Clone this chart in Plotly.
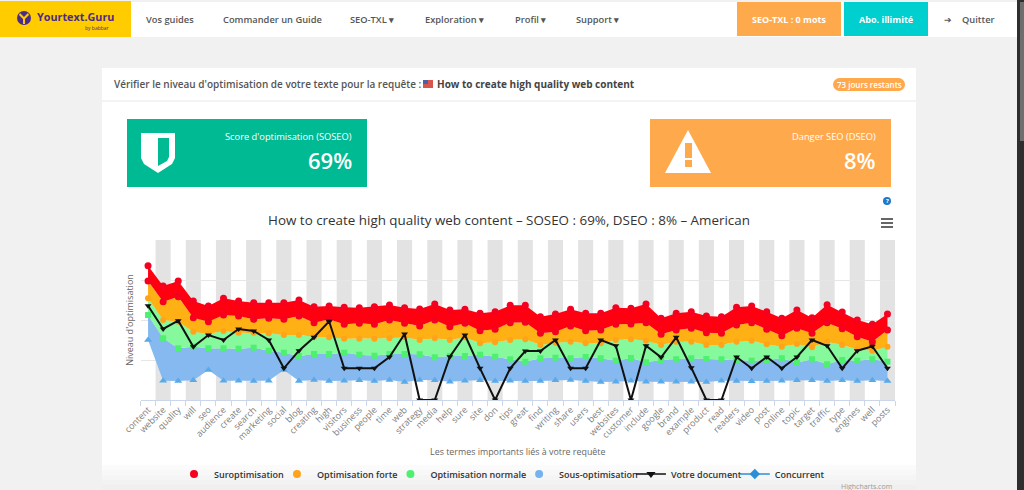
import plotly.graph_objects as go

# termes de la requete
termes = ["content", "website", "quality", "will", "seo", "audience", "create", "search", "marketing", "social",
          "blog", "creating", "high", "visitors", "business", "people", "time", "web", "strategy", "media",
          "help", "sure", "site", "don", "tips", "great", "find", "writing", "share", "users",
          "best", "websites", "customer", "include", "google", "brand", "example", "product", "read", "readers",
          "video", "post", "online", "topic", "target", "traffic", "type", "engines", "well", "posts"]

# limites des zones
suro_haut = [134.3, 114, 119, 99, 94, 101.7, 99, 97.3, 97.3, 97.3,
             100, 93.3, 94, 92.7, 92.3, 93.3, 95, 92.3, 91, 96,
             90, 90.7, 86.7, 88.3, 94.7, 94.7, 83.3, 86, 90.7, 86.7,
             86.7, 92.3, 91.7, 96, 81.7, 86.7, 88.3, 84, 83.3, 92.7,
             94, 88.3, 81.7, 90, 82.3, 95.3, 88, 80, 75.7, 86]
suro_bas = [119, 98.3, 103.3, 82.3, 78.3, 85, 84, 80.7, 81.7, 80.7,
            84, 77.3, 80.7, 75.7, 76.7, 75.7, 80, 76.7, 74, 80,
            73.3, 76.7, 69.3, 70.7, 77.3, 77.7, 66.7, 68.3, 74, 69.3,
            70, 75.7, 76, 77.3, 65.7, 70, 71.7, 67.3, 66.7, 75,
            77.3, 70.7, 64.3, 71.7, 66.7, 77.3, 71.3, 63.3, 58.3, 70]
forte_bas = [101.7, 80, 78.3, 68.3, 66, 69, 67.3, 67.3, 66.7, 65,
             65, 63.3, 62.7, 61.3, 61.3, 61.3, 61.7, 62.7, 60, 61.7,
             60, 62.7, 56.7, 57.7, 60, 60.7, 55, 57.3, 58.3, 56.7,
             56.7, 60, 60.7, 59.3, 55, 58.3, 58.3, 55, 55, 58.3,
             59.3, 55.7, 53.3, 56, 52.7, 58.3, 55, 50.7, 49.3, 53.3]
normale_bas = [85, 61.7, 51.7, 53.3, 51.7, 51.7, 51.3, 52.3, 49.3, 47.3,
               44, 46, 46, 47.3, 45.3, 44.3, 46, 46, 45.7, 42.7,
               44, 44, 45.3, 43.3, 40.7, 38.3, 41.7, 42.3, 41.7, 43,
               41.7, 39.3, 42, 37.7, 40, 40.7, 41.7, 41, 40.7, 40,
               39.3, 40, 41.7, 37.3, 40.7, 35.7, 40, 39.3, 40.7, 38.3]
sous_bas = [60, 19.3, 19, 19.7, 30, 19.3, 19.3, 19, 19.3, 30,
            19, 20, 19, 19.3, 19.7, 19, 20, 18, 20, 19.7,
            18.3, 19.3, 19.7, 19, 19.3, 19, 19, 19.7, 20, 19,
            18, 18.3, 19.3, 18.3, 18.3, 18.3, 18.3, 18, 19.3, 19,
            18.7, 19, 19.3, 19.7, 19.7, 19, 19.7, 19, 19.7, 19]
votre_doc = [94.3, 71, 79.3, 53.3, 65, 60, 71, 69, 60, 31.7,
             49.3, 62.7, 78.7, 31.7, 31.7, 31.7, 43, 66, 0, 0,
             43.3, 65, 31.7, 0, 31.7, 49, 49, 60, 31.7, 31.7,
             60, 54.3, 0, 54.3, 42.7, 62.7, 32.3, 0, 0, 43,
             31.7, 43, 31.7, 43, 60, 54.3, 31.7, 49.3, 53.7, 31.7]

FONT = "Open Sans"
W, H = 1024, 490


def px(x):
    return x / W


def py(y):
    return 1 - y / H


shapes = []
annots = []


def rect(x0, y0, x1, y1, color):
    shapes.append(dict(type="rect", xref="paper", yref="paper", layer="below", x0=px(x0), x1=px(x1),
                       y0=py(y0), y1=py(y1), fillcolor=color, line_width=0))


def disc(x0, y0, x1, y1, color):
    shapes.append(dict(type="circle", xref="paper", yref="paper", layer="below", x0=px(x0), x1=px(x1),
                       y0=py(y1), y1=py(y0), fillcolor=color, line_width=0))


def poly(points, color):
    path = "M" + " L".join(f"{px(a):.5f},{py(b):.5f}" for a, b in points) + " Z"
    shapes.append(dict(type="path", xref="paper", yref="paper", layer="below", path=path,
                       fillcolor=color, line_width=0))


def txt(x, y, s, size=10, color="#555555", anchor="left", weight=400):
    annots.append(dict(xref="paper", yref="paper", x=px(x), y=py(y), text=s, showarrow=False,
                       xanchor=anchor, yanchor="middle", borderpad=0,
                       font=dict(family=FONT, size=size, color=color, weight=weight)))


# fond de page
rect(0, 0, W, H, "#f1f1f1")
rect(0, 2, 1017, 37, "#ffffff")
rect(0, 1, 131, 37, "#ffcc00")
rect(737, 2, 841, 36, "#ffa94d")
rect(844, 2, 928, 36, "#00cfcf")
rect(102, 68, 916, H, "#ffffff")
rect(102, 100, 916, 102, "#f3f3f3")
rect(127, 119, 367, 187, "#00ba94")
rect(650, 119, 891, 187, "#ffa94d")
rect(1017, 0, W, H, "#2e2e2e")
rect(1020, 2, W, 141, "#6e6e6e")
for i, c in enumerate(["#fbfbfb", "#f8f8f8", "#f5f5f5", "#f2f2f2", "#efefef"]):
    rect(102, 465 + i * 5, 916, 470 + i * 5, c)

# barre de navigation
disc(17, 11, 31, 25, "#4b2a8c")
poly([(20, 13), (24, 17), (28, 13), (29, 15), (25, 19), (25, 24), (23, 24), (23, 19), (19, 15)], "#ffcc00")
txt(36, 17, "Yourtext.Guru", 10.8, "#4b2a8c", weight=700)
txt(84, 28, "by babbar", 5, "#4b2a8c")
for x, s in [(145, "Vos guides"), (222, "Commander un Guide"), (349, "SEO-TXL ▾"),
             (424, "Exploration ▾"), (514, "Profil ▾"), (575, "Support ▾"), (961, "Quitter")]:
    txt(x, 19, s, 9.3, "#555555", weight=600)
txt(948, 19, "➔", 9, "#555555", "center")
txt(789, 19, "SEO-TXL : 0 mots", 9, "#ffffff", "center", 700)
txt(886, 19, "Abo. illimité", 9, "#ffffff", "center", 700)

# en-tete de la carte
txt(113, 84, "Vérifier le niveau d'optimisation de votre texte pour la requête :", 10, "#555555", weight=600)
rect(423, 80, 433, 88, "#d9534f")
rect(423, 80, 428, 84, "#4a5fa5")
txt(436, 84, "How to create high quality web content", 10, "#444444", weight=700)
rect(839, 78, 899, 91, "#ffa94d")
disc(833, 78, 846, 91, "#ffa94d")
disc(892, 78, 905, 91, "#ffa94d")
txt(869, 85, "73 jours restants", 8, "#ffffff", "center", 600)

# boites de score
txt(353, 136, "Score d'optimisation (SOSEO)", 9.3, "#ffffff", "right")
txt(353, 160, "69%", 22, "#ffffff", "right", 600)
poly([(141, 133), (175, 133), (175, 158), (172, 164), (158, 173), (144, 164), (141, 158)], "#ffffff")
poly([(158, 138), (169, 138), (169, 157), (167, 161), (158, 166)], "#00ba94")
txt(877, 136, "Danger SEO (DSEO)", 9.3, "#ffffff", "right")
txt(877, 160, "8%", 22, "#ffffff", "right", 600)
poly([(688, 130), (711, 173), (665, 173)], "#ffffff")
rect(685, 143, 692, 158, "#ffa94d")
rect(685, 160, 692, 167, "#ffa94d")

# aide et menu du graphique
disc(883, 197, 891, 205, "#1f78c8")
txt(887, 201, "?", 6, "#ffffff", "center", 700)
for y in [219, 223, 227]:
    rect(881, y - 1, 893, y + 1, "#666666")
txt(893, 486, "Highcharts.com", 7, "#999999", "right")

# bandes grises une categorie sur deux
for i in range(1, len(termes), 2):
    shapes.append(dict(type="rect", xref="x", yref="y", layer="below", x0=i - 0.5, x1=i + 0.5,
                       y0=0, y1=160, fillcolor="#e3e3e3", line_width=0))

fig = go.Figure()

# zones : (bas, haut, couleur)
zones = [(sous_bas, normale_bas, "#85b9ef"),
         (normale_bas, forte_bas, "#85f99b"),
         (forte_bas, suro_bas, "#ffb014"),
         (suro_bas, suro_haut, "#ff0010")]
for bas, haut, couleur in zones:
    fig.add_trace(go.Scatter(x=termes, y=bas, mode="lines", line=dict(width=0), showlegend=False,
                             hoverinfo="skip"))
    fig.add_trace(go.Scatter(x=termes, y=haut, mode="lines", line=dict(width=0), fill="tonexty",
                             fillcolor=couleur, showlegend=False, hoverinfo="skip"))

# marqueurs sur les limites
reperes = [(sous_bas, "triangle-up", "#5aaae8", 7),
           (normale_bas, "square", "#4ef070", 6),
           (forte_bas, "circle", "#ffa31a", 6),
           (suro_bas, "circle", "#f5001e", 7),
           (suro_haut, "circle", "#f5001e", 7)]
for vals, symbole, couleur, taille in reperes:
    fig.add_trace(go.Scatter(x=termes, y=vals, mode="markers", showlegend=False,
                             marker=dict(symbol=symbole, color=couleur, size=taille)))

fig.add_trace(go.Scatter(x=termes, y=votre_doc, mode="lines+markers", name="Votre document", showlegend=False,
                         line=dict(color="#111111", width=2),
                         marker=dict(symbol="triangle-down", color="#111111", size=6)))

# legende
legende = [("Suroptimisation", "#f5001e", "circle", False),
           ("Optimisation forte", "#ffa31a", "circle", False),
           ("Optimisation normale", "#4ef070", "circle", False),
           ("Sous-optimisation", "#75b3ee", "circle", False),
           ("Votre document", "#111111", "triangle-down", True),
           ("Concurrent", "#2b8fd8", "diamond", True)]
for nom, couleur, symbole, ligne in legende:
    fig.add_trace(go.Scatter(x=[None], y=[None], name=nom, mode="lines+markers" if ligne else "markers",
                             line=dict(color=couleur, width=1.5),
                             marker=dict(symbol=symbole, color=couleur, size=8)))

fig.update_layout(
    width=W, height=H, autosize=False,
    margin=dict(l=0, r=0, t=0, b=0, autoexpand=False),
    paper_bgcolor="#f1f1f1", plot_bgcolor="rgba(0,0,0,0)",
    font=dict(family=FONT, color="#666666"),
    title=dict(text="How to create high quality web content – SOSEO : 69%, DSEO : 8% – American",
               x=px(509), y=py(220), xanchor="center", yanchor="middle", xref="paper", yref="paper",
               font=dict(family=FONT, size=13.4, color="#333333")),
    shapes=shapes, annotations=annots,
    legend=dict(orientation="h", x=px(186), y=py(474), xanchor="left", yanchor="middle", traceorder="normal",
                bgcolor="rgba(0,0,0,0)", font=dict(family=FONT, size=9, color="#333333", weight=600),
                itemwidth=30, indentation=-12),
    xaxis=dict(domain=[px(140.5), px(895)], type="category", range=[-0.5, 49.5], tickangle=-45,
               tickmode="array", tickvals=termes, ticktext=termes, tickson="boundaries",
               ticks="outside", ticklen=5, tickcolor="#ccd6eb", linecolor="#ccd6eb", showline=True,
               showgrid=False, automargin=False, tickfont=dict(family=FONT, size=9, color="#808080"),
               title=dict(text="Les termes importants liés à votre requête", standoff=6,
                          font=dict(family=FONT, size=8.9, color="#666666"))),
    yaxis=dict(domain=[py(400), py(240)], range=[0, 160], dtick=40, showticklabels=False, zeroline=False,
               gridcolor="#e6e6e6", automargin=False,
               title=dict(text="Niveau d'optimisation", standoff=4,
                          font=dict(family=FONT, size=9, color="#666666"))),
)

fig.write_html("out.html", config={"displayModeBar": False},
               post_script="document.body.style.margin='0';document.body.style.overflow='hidden';")
